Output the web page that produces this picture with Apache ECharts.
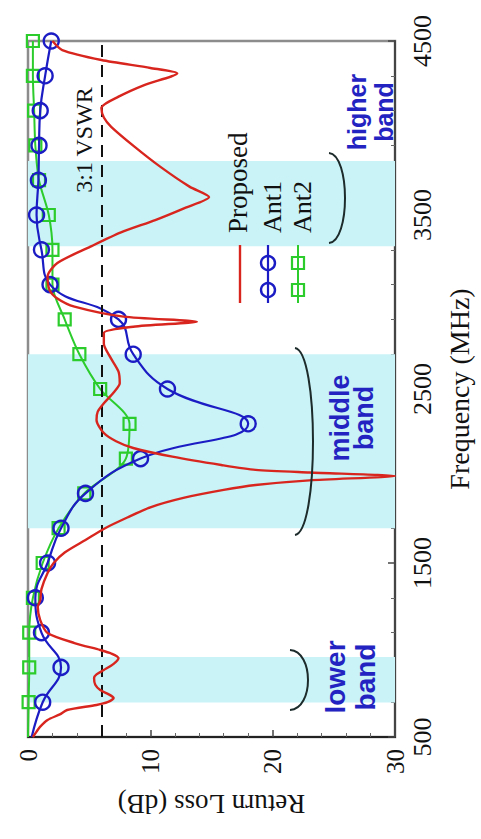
<!DOCTYPE html>
<html>
<head>
<meta charset="utf-8">
<script src="https://cdn.jsdelivr.net/npm/echarts@6/dist/echarts.min.js"></script>
<style>
  html, body { margin: 0; padding: 0; background: #ffffff; }
  #chart { width: 481px; height: 839px; }
</style>
</head>
<body>
<div id="chart"></div>
<script>
// Axis ranges and tick labels
const freqTicks = [500, 1500, 2500, 3500, 4500];     // Frequency (MHz)
const lossTicks = [0, 10, 20, 30];                   // Return Loss (dB)

// Operating bands (MHz): lower, middle, higher
const bandLower = [698, 960];
const bandMiddle = [1700, 2700];
const bandHigher = [3320, 3810];

// 3:1 VSWR threshold (dB)
const vswrLevel = [6.02];

// Ant1: measured every 200 MHz
const ant1Freq = [500, 700, 900, 1100, 1300, 1500, 1700, 1900, 2100, 2300, 2500,
                  2700, 2900, 3100, 3300, 3500, 3700, 3900, 4100, 4300, 4500];
const ant1Loss = [0.3, 1.2, 2.7, 1.1, 0.6, 1.6, 2.7, 4.7, 9.2, 18.0, 11.4,
                  8.6, 7.4, 1.8, 1.1, 0.7, 0.85, 0.9, 1.0, 1.4, 1.9];

// Ant2: measured every 200 MHz
const ant2Freq = [500, 700, 900, 1100, 1300, 1500, 1700, 1900, 2100, 2300, 2500,
                  2700, 2900, 3100, 3300, 3500, 3700, 3900, 4100, 4300, 4500];
const ant2Loss = [0.0, 0.05, 0.1, 0.1, 0.4, 1.2, 2.5, 4.6, 8.0, 8.3, 5.9,
                  4.2, 3.0, 2.0, 2.0, 1.7, 0.9, 0.6, 0.5, 0.4, 0.4];

// Proposed antenna: dense sweep
const propFreq = [500, 531, 560, 598, 630, 655, 684, 700, 724, 745, 770, 800, 839, 860,
                  885, 920, 954, 980, 1000, 1040, 1098, 1172, 1247, 1287, 1350, 1443,
                  1500, 1560, 1632, 1700, 1764, 1820, 1874, 1920, 1948, 1975, 2000,
                  2020, 2035, 2063, 2111, 2161, 2200, 2247, 2322, 2370, 2418, 2480,
                  2533, 2600, 2686, 2760, 2822, 2858, 2887, 2916, 2973, 3020, 3069,
                  3146, 3224, 3318, 3400, 3471, 3540, 3603, 3663, 3778, 3893, 4007,
                  4060, 4115, 4180, 4247, 4314, 4345, 4391, 4448, 4500];
const propLoss = [0.4, 0.7, 1.0, 1.6, 2.6, 3.2, 5.6, 6.5, 7.0, 6.6, 5.9, 5.5, 5.4, 5.6,
                  6.2, 7.0, 7.4, 6.8, 5.9, 3.8, 1.6, 1.0, 0.8, 1.0, 1.1, 1.6,
                  2.1, 3.0, 4.7, 6.3, 8.2, 10.0, 12.7, 16.0, 18.6, 23.0, 30.0,
                  23.0, 18.6, 15.8, 11.8, 8.6, 7.2, 6.2, 5.6, 5.7, 6.2, 7.0,
                  7.5, 7.4, 6.7, 6.2, 6.2, 8.6, 13.8, 7.8, 3.8, 2.4, 1.76,
                  1.6, 2.4, 5.1, 7.6, 10.4, 12.8, 14.8, 13.2, 10.8, 8.7, 6.8,
                  6.2, 6.0, 7.4, 9.5, 12.2, 10.0, 6.0, 2.8, 2.0];

const seriesNames = ['Proposed', 'Ant1', 'Ant2'];
const colors = { Proposed: '#d8261f', Ant1: '#1c1cc4', Ant2: '#2ccc2c' };
const bandBlue = '#2323c2';
const serif = 'Liberation Serif';
const sans = 'Liberation Sans';

function pairs(freq, loss) {
  return freq.map((f, i) => [loss[i], f]);
}

const ant1Data = pairs(ant1Freq, ant1Loss).map((p, i) =>
  i === 0 ? { value: p, symbol: 'none' } : p);
const ant2Data = pairs(ant2Freq, ant2Loss).map((p, i) =>
  i === 0 ? { value: p, symbol: 'none' } : p);
const propData = pairs(propFreq, propLoss);

const bands = [bandLower, bandMiddle, bandHigher];

const chart = echarts.init(document.getElementById('chart'), null, { renderer: 'svg' });

// Rotated annotation helpers
const R90 = Math.PI / 2;
function rotText(x, y, text, font, color, align, lineHeight) {
  return {
    type: 'text', x: x, y: y, rotation: R90, z: 50,
    style: {
      text: text, font: font, fill: color,
      textAlign: align || 'center', textVerticalAlign: 'middle',
      lineHeight: lineHeight || undefined
    }
  };
}
function bracket(x0, yTop, yBot, xMid) {
  const c = x0 + (xMid - x0) / 0.75;
  const h = yBot - yTop;
  return {
    type: 'bezierCurve', z: 50,
    shape: { x1: x0, y1: yTop, x2: x0, y2: yBot,
             cpx1: c, cpy1: yTop + 0.02 * h, cpx2: c, cpy2: yBot - 0.02 * h },
    style: { stroke: '#1d2b2b', lineWidth: 2, fill: null }
  };
}

const option = {
  backgroundColor: '#ffffff',
  animation: false,
  grid: {
    left: 28, right: 78, top: 41, bottom: 102,
    show: true, borderColor: '#8c8c8c', borderWidth: 2.5, backgroundColor: 'transparent'
  },
  xAxis: {
    type: 'value',
    position: 'bottom',
    min: lossTicks[0], max: lossTicks[lossTicks.length - 1], interval: 10,
    name: 'Return Loss (dB)', nameLocation: 'middle', nameRotate: 180, nameGap: 53,
    nameTextStyle: { fontFamily: serif, fontSize: 27, color: '#111' },
    axisLine: { show: true, onZero: false, lineStyle: { color: '#222', width: 2 } },
    axisTick: { show: true, inside: true, length: 7, lineStyle: { color: '#444', width: 1.5 } },
    minorTick: { show: true, splitNumber: 5, length: 4, lineStyle: { color: '#666', width: 1 } },
    splitLine: { show: false },
    axisLabel: { rotate: 90, margin: 12, fontFamily: serif, fontSize: 25, color: '#111',
                 formatter: v => lossTicks.includes(v) ? String(v) : '' }
  },
  yAxis: {
    type: 'value',
    position: 'right',
    min: freqTicks[0], max: freqTicks[freqTicks.length - 1], interval: 1000,
    name: 'Frequency (MHz)', nameLocation: 'middle', nameRotate: 90, nameGap: 50,
    nameTextStyle: { fontFamily: serif, fontSize: 28, color: '#111' },
    axisLine: { show: true, onZero: false, lineStyle: { color: '#444', width: 2 } },
    axisTick: { show: true, inside: true, length: 7, lineStyle: { color: '#444', width: 1.5 } },
    minorTick: { show: true, splitNumber: 5, length: 4, lineStyle: { color: '#666', width: 1 } },
    splitLine: { show: false },
    axisLabel: { rotate: 90, margin: 14, fontFamily: serif, fontSize: 26, color: '#111',
                 formatter: v => freqTicks.includes(v) ? String(v) : '' }
  },
  series: [
    {
      name: 'bands', type: 'line', data: [], silent: true,
      markArea: {
        silent: true,
        itemStyle: { color: '#c9f3f7' },
        data: bands.map(b => [{ yAxis: b[0] }, { yAxis: b[1] }])
      },
      markLine: {
        silent: true, symbol: 'none', label: { show: false },
        lineStyle: { color: '#111', type: [12, 8], width: 2 },
        data: vswrLevel.map(v => ({ xAxis: v }))
      },
      z: 1
    },
    {
      name: seriesNames[2], type: 'line', data: ant2Data, smooth: 0.3,
      symbol: 'rect', symbolSize: 12,
      lineStyle: { color: colors.Ant2, width: 2 },
      itemStyle: { color: 'rgba(0,0,0,0)', borderColor: colors.Ant2, borderWidth: 2.2 },
      z: 3
    },
    {
      name: seriesNames[1], type: 'line', data: ant1Data, smooth: 0.45,
      symbol: 'circle', symbolSize: 15,
      lineStyle: { color: colors.Ant1, width: 2.2 },
      itemStyle: { color: 'rgba(0,0,0,0)', borderColor: colors.Ant1, borderWidth: 2.4 },
      z: 4
    },
    {
      name: seriesNames[0], type: 'line', data: propData, smooth: 0.25,
      showSymbol: false, symbol: 'none',
      lineStyle: { color: colors.Proposed, width: 2.4 },
      z: 5
    }
  ],
  graphic: [
    // legend
    { type: 'line', z: 50, shape: { x1: 240, y1: 303, x2: 240, y2: 245 },
      style: { stroke: colors.Proposed, lineWidth: 2.4 } },
    { type: 'line', z: 50, shape: { x1: 268, y1: 303, x2: 268, y2: 245 },
      style: { stroke: colors.Ant1, lineWidth: 2.2 } },
    { type: 'circle', z: 51, shape: { cx: 268, cy: 290, r: 7 },
      style: { stroke: colors.Ant1, lineWidth: 2.4, fill: null } },
    { type: 'circle', z: 51, shape: { cx: 268, cy: 263, r: 7 },
      style: { stroke: colors.Ant1, lineWidth: 2.4, fill: null } },
    { type: 'line', z: 50, shape: { x1: 298, y1: 303, x2: 298, y2: 245 },
      style: { stroke: colors.Ant2, lineWidth: 2 } },
    { type: 'rect', z: 51, shape: { x: 292, y: 284, width: 12, height: 12 },
      style: { stroke: colors.Ant2, lineWidth: 2.2, fill: null } },
    { type: 'rect', z: 51, shape: { x: 292, y: 257, width: 12, height: 12 },
      style: { stroke: colors.Ant2, lineWidth: 2.2, fill: null } },
    rotText(238, 233, seriesNames[0], '27px ' + serif, '#111', 'left'),
    rotText(272, 233, seriesNames[1], '26px ' + serif, '#111', 'left'),
    rotText(302, 233, seriesNames[2], '26px ' + serif, '#111', 'left'),
    // threshold caption
    rotText(84, 140, '3:1 VSWR', '24px ' + serif, '#111'),
    // band captions and brackets
    rotText(370, 112, 'higher\nband', 'bold 25px ' + sans, bandBlue, 'center', 27),
    rotText(352, 418, 'middle\nband', 'bold 27px ' + sans, bandBlue, 'center', 24),
    rotText(350, 677, 'lower\nband', 'bold 28px ' + sans, bandBlue, 'center', 30),
    bracket(329, 153, 243, 345),
    bracket(295, 348, 535, 313),
    bracket(290, 650, 710, 308)
  ]
};

chart.setOption(option);
</script>
</body>
</html>
